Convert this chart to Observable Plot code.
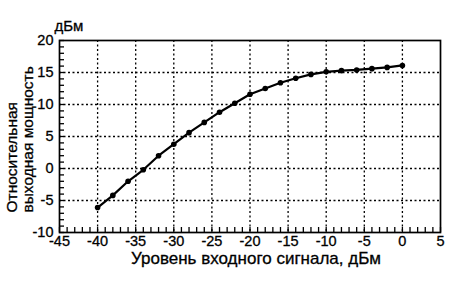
<!DOCTYPE html>
<html><head><meta charset="utf-8">
<script src="https://cdn.jsdelivr.net/npm/d3@7"></script>
<script src="https://cdn.jsdelivr.net/npm/@observablehq/plot@0.6"></script>
<style>
body{margin:0;background:#fff;}
#chart svg{font-family:"Liberation Sans",Arial,Helvetica,sans-serif;}
#chart svg text{stroke:#000;stroke-width:0.3px;paint-order:stroke;}
</style>
</head><body><div id="chart"></div>
<script>
// Data
const inputLevel = [-40,-38,-36,-34,-32,-30,-28,-26,-24,-22,-20,-18,-16,-14,-12,-10,-8,-6,-4,-2,0];
const outputPower = [-6.1,-4.2,-2.0,-0.2,2.0,3.8,5.6,7.2,8.8,10.2,11.6,12.5,13.4,14.1,14.7,15.1,15.3,15.4,15.6,15.8,16.1];
const xTicks = [-45,-40,-35,-30,-25,-20,-15,-10,-5,0,5];
const yTicks = [-10,-5,0,5,10,15,20];
const xMinor = d3.range(-45, 5.01, 1);
const yMinor = d3.range(-10, 20.01, 1);
const xTitle = "Уровень входного сигнала, дБм";
const yTitle1 = "Относительная";
const yTitle2 = "выходная мощность";
const unitLabel = "дБм";

const data = inputLevel.map((x, i) => ({x, y: outputPower[i]}));
const xGrid = xTicks.slice(1, -1);
const yGrid = yTicks.slice(1, -1);

const W = 461, H = 286, ML = 59, MR = 21, MT = 40, MB = 54;
const frameW = W - ML - MR, frameH = H - MT - MB, tickLen = 5;

const chart = Plot.plot({
  width: W,
  height: H,
  marginLeft: ML,
  marginRight: MR,
  marginTop: MT,
  marginBottom: MB,
  style: {background: "#fff", color: "#000", fontFamily: "Liberation Sans, Arial, sans-serif"},
  x: {domain: [-45, 5], ticks: xTicks, tickSize: 0, tickPadding: 3, label: null, tickFormat: d => String(d)},
  y: {domain: [-10, 20], ticks: yTicks, tickSize: 0, tickPadding: 6, label: null, tickFormat: d => String(d)},
  marks: [
    Plot.ruleX(xGrid, {x: d => d, stroke: "black", strokeOpacity: 1, strokeWidth: 1.3, strokeDasharray: "2 2.5"}),
    Plot.ruleY(yGrid, {y: d => d, stroke: "black", strokeOpacity: 1, strokeWidth: 1.3, strokeDasharray: "2 2.5"}),
    Plot.ruleX(xMinor, {x: d => d, stroke: "black", strokeWidth: 1.3, insetTop: frameH - tickLen}),
    Plot.ruleY(yMinor, {y: d => d, stroke: "black", strokeWidth: 1.3, insetRight: frameW - tickLen}),
    Plot.frame({stroke: "black", strokeWidth: 1.7}),
    Plot.line(data, {x: "x", y: "y", stroke: "black", strokeWidth: 2.2}),
    Plot.dot(data, {x: "x", y: "y", fill: "black", r: 2.8}),
    Plot.text([unitLabel], {frameAnchor: "top-left", textAnchor: "start", dx: -5, dy: -20, fontSize: 15}),
    Plot.text([yTitle1], {frameAnchor: "bottom-left", textAnchor: "start", rotate: -90, dx: -43, dy: -20, fontSize: 15.5}),
    Plot.text([yTitle2], {frameAnchor: "bottom-left", textAnchor: "start", rotate: -90, dx: -27, dy: -20, fontSize: 15.5}),
    Plot.text([xTitle], {frameAnchor: "bottom", dx: 6, dy: 31, fontSize: 17})
  ]
});
chart.querySelectorAll("g[aria-label='x-axis tick label'], g[aria-label='y-axis tick label']").forEach(n => n.setAttribute("font-size", 14.5));
document.getElementById("chart").appendChild(chart);
</script>
</body></html>
